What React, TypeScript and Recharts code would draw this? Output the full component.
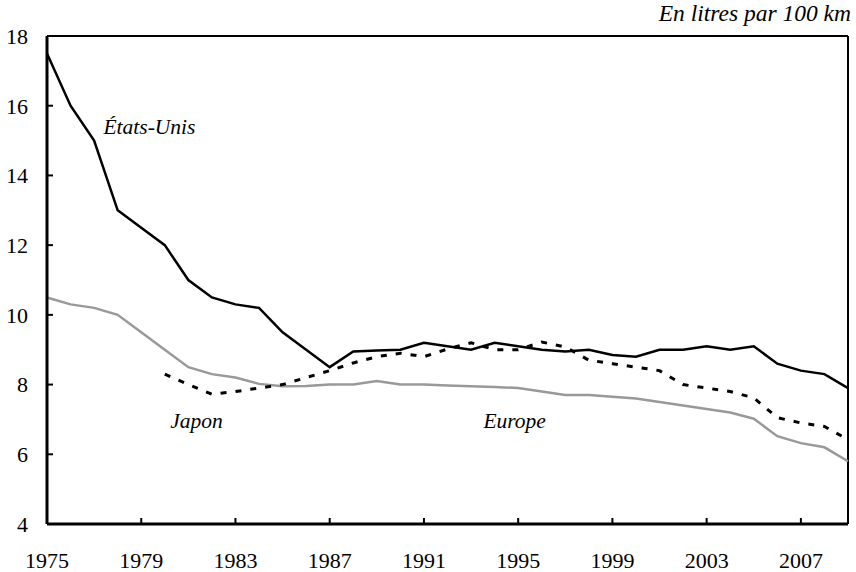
import React from 'react';
import { LineChart, Line, XAxis, YAxis, ReferenceLine, ReferenceDot } from 'recharts';

const years = [1975,1976,1977,1978,1979,1980,1981,1982,1983,1984,1985,1986,1987,1988,1989,1990,1991,1992,1993,1994,1995,1996,1997,1998,1999,2000,2001,2002,2003,2004,2005,2006,2007,2008,2009];
const etatsUnis = [17.5,16.0,15.0,13.0,12.5,12.0,11.0,10.5,10.3,10.2,9.5,9.0,8.5,8.95,8.98,9.0,9.2,9.1,9.0,9.2,9.1,9.0,8.95,9.0,8.85,8.8,9.0,9.0,9.1,9.0,9.1,8.6,8.4,8.3,7.9];
const japon = [null,null,null,null,null,8.3,8.0,7.72,7.8,7.9,8.0,8.2,8.4,8.62,8.8,8.9,8.8,9.02,9.2,9.0,9.0,9.22,9.08,8.7,8.6,8.5,8.4,8.0,7.9,7.8,7.62,7.05,6.9,6.8,6.42];
const europe = [10.5,10.3,10.2,10.0,9.5,9.0,8.5,8.3,8.2,8.02,7.95,7.96,8.0,8.0,8.1,8.0,8.0,7.97,7.95,7.93,7.9,7.8,7.7,7.7,7.65,7.6,7.5,7.4,7.3,7.2,7.02,6.52,6.32,6.2,5.8];
const xTicks = [1975,1979,1983,1987,1991,1995,1999,2003,2007];
const yTicks = [4,6,8,10,12,14,16,18];
const unitLabel = 'En litres par 100 km';
const seriesLabels = [
  { text: 'États-Unis', x: 1979.35, y: 15.42 },
  { text: 'Japon', x: 1981.35, y: 6.98 },
  { text: 'Europe', x: 1994.85, y: 6.98 },
];

const data = years.map((yr, i) => ({ year: yr, us: etatsUnis[i], jp: japon[i], eu: europe[i] }));

const FONT = 'Liberation Serif';

export default function App() {
  return (
    <div style={{ position: 'absolute', left: 0, top: 0, width: 856, height: 572, background: '#fff', fontFamily: FONT }}>
      <LineChart width={856} height={572} data={data} margin={{ top: 36, right: 8, bottom: 18, left: 0 }} style={{ fontFamily: FONT }}>
        <XAxis
          dataKey="year"
          type="number"
          domain={[1975, 2009]}
          ticks={xTicks}
          interval={0}
          height={30}
          axisLine={{ stroke: '#000', strokeWidth: 3 }}
          tickLine={{ stroke: '#000', strokeWidth: 2 }}
          tickSize={-6}
          tickMargin={34}
          tick={{ fill: '#000', fontFamily: FONT, fontSize: 22 }}
        />
        <YAxis
          type="number"
          domain={[4, 18]}
          ticks={yTicks}
          interval={0}
          width={47}
          axisLine={{ stroke: '#000', strokeWidth: 3 }}
          tickLine={{ stroke: '#000', strokeWidth: 2 }}
          tickSize={-6}
          tickMargin={25}
          tick={{ fill: '#000', fontFamily: FONT, fontSize: 22 }}
        />
        <ReferenceLine y={18} stroke="#000" strokeWidth={2} ifOverflow="visible" />
        <ReferenceLine x={2009} stroke="#000" strokeWidth={2} ifOverflow="visible" />
        <Line dataKey="eu" stroke="#999999" strokeWidth={2.5} dot={false} isAnimationActive={false} />
        <Line dataKey="jp" stroke="#000" strokeWidth={3} strokeDasharray="6 9" dot={false} isAnimationActive={false} connectNulls={false} />
        <Line dataKey="us" stroke="#000" strokeWidth={2.5} dot={false} isAnimationActive={false} />
        {seriesLabels.map((l) => (
          <ReferenceDot
            key={l.text}
            x={l.x}
            y={l.y}
            r={0}
            stroke="none"
            fill="none"
            label={{ value: l.text, position: 'center', fill: '#000', fontFamily: FONT, fontStyle: 'italic', fontSize: 21.5 }}
          />
        ))}
      </LineChart>
      <div style={{ position: 'absolute', right: 5, top: 0, fontFamily: FONT, fontStyle: 'italic', fontSize: 23.5, color: '#000', lineHeight: '26px', whiteSpace: 'nowrap' }}>
        {unitLabel}
      </div>
    </div>
  );
}
